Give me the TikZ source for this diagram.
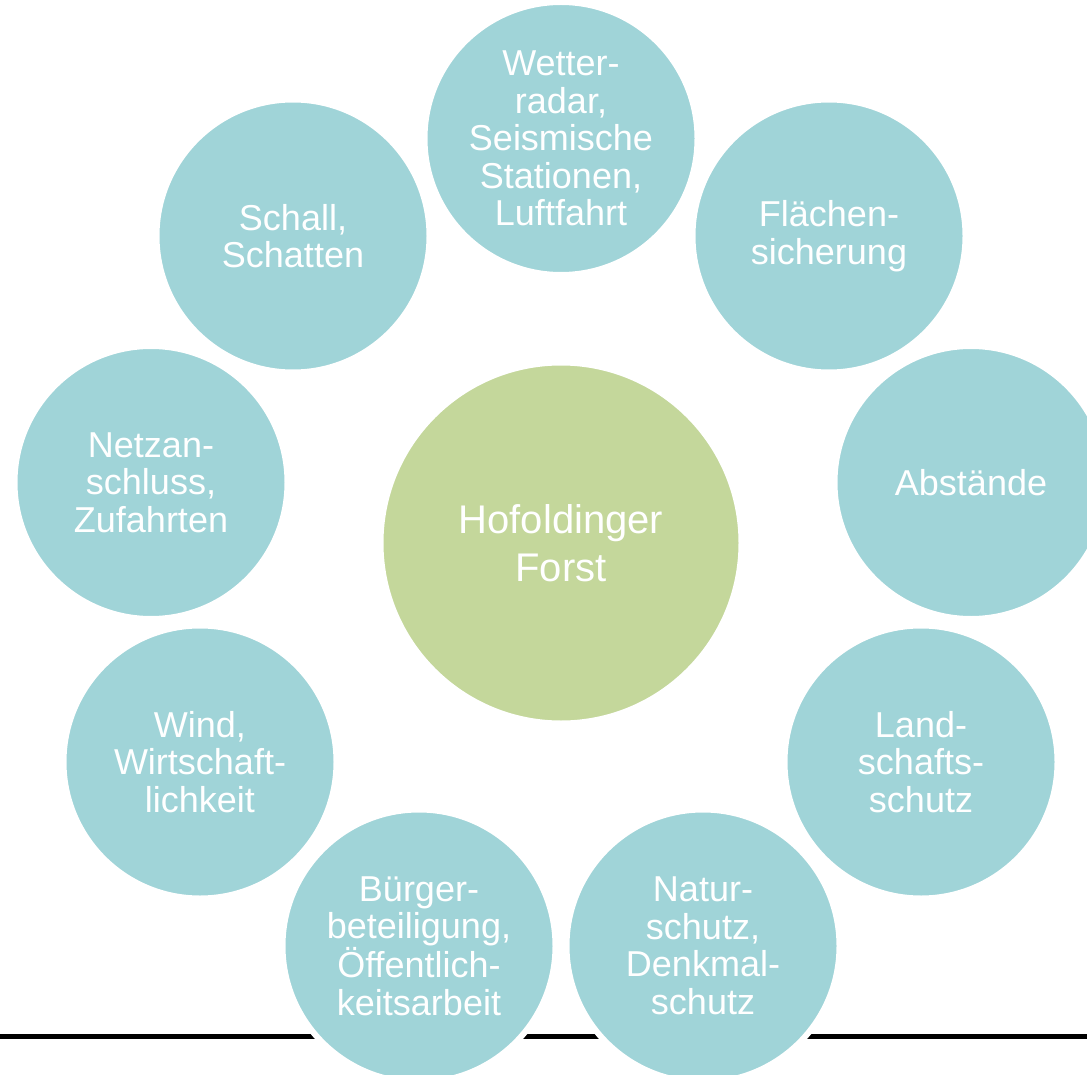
\documentclass[tikz,border=0pt]{standalone}
\usepackage{fontspec}
\setmainfont{Liberation Sans}
\definecolor{aquafill}{RGB}{160,212,216}
\definecolor{olivefill}{RGB}{196,215,155}

\begin{document}
\begin{tikzpicture}[x=1pt, y=-1pt,
        topic/.style={circle, fill=aquafill, draw=white, line width=6pt, minimum size=273pt, inner sep=0pt, align=center, text=white, font=\fontsize{36}{37.5}\selectfont},
        hub/.style={topic, fill=olivefill, minimum size=361pt, font=\fontsize{40}{48}\selectfont}]
        \useasboundingbox (0,0) rectangle (1087,1075);
        \clip (0,0) rectangle (1087,1075);

        % --- Rule across the bottom ---
        \coordinate (ruleL) at (0,1036.5);
        \coordinate (ruleR) at (1087,1036.5);
        \draw[line width=4.5pt] (ruleL) -- (ruleR);
        % ---

        % --- Centre ---
        \node[hub] (forst) at (561,543) {Hofoldinger\\Forst};
        % ---

        % --- Ring of topics ---
        \node[topic] (radar) at (561,138.5) {Wetter-\\radar,\\Seismische\\Stationen,\\Luftfahrt};
        \node[topic] (flaeche) at (829,236) {Flächen-\\sicherung};
        \node[topic] (abstand) at (971,482.5) {Abstände};
        \node[topic] (landschaft) at (921,762) {Land-\\schafts-\\schutz};
        \node[topic] (natur) at (703,946) {Natur-\\schutz,\\Denkmal-\\schutz};
        \node[topic] (buerger) at (419,946) {Bürger-\\beteiligung,\\Öffentlich-\\keitsarbeit};
        \node[topic] (wind) at (200,762) {Wind,\\Wirtschaft-\\lichkeit};
        \node[topic] (netz) at (151,482.5) {Netzan-\\schluss,\\Zufahrten};
        \node[topic] (schall) at (293,236) {Schall,\\Schatten};
        % ---
    \end{tikzpicture}
\end{document}
